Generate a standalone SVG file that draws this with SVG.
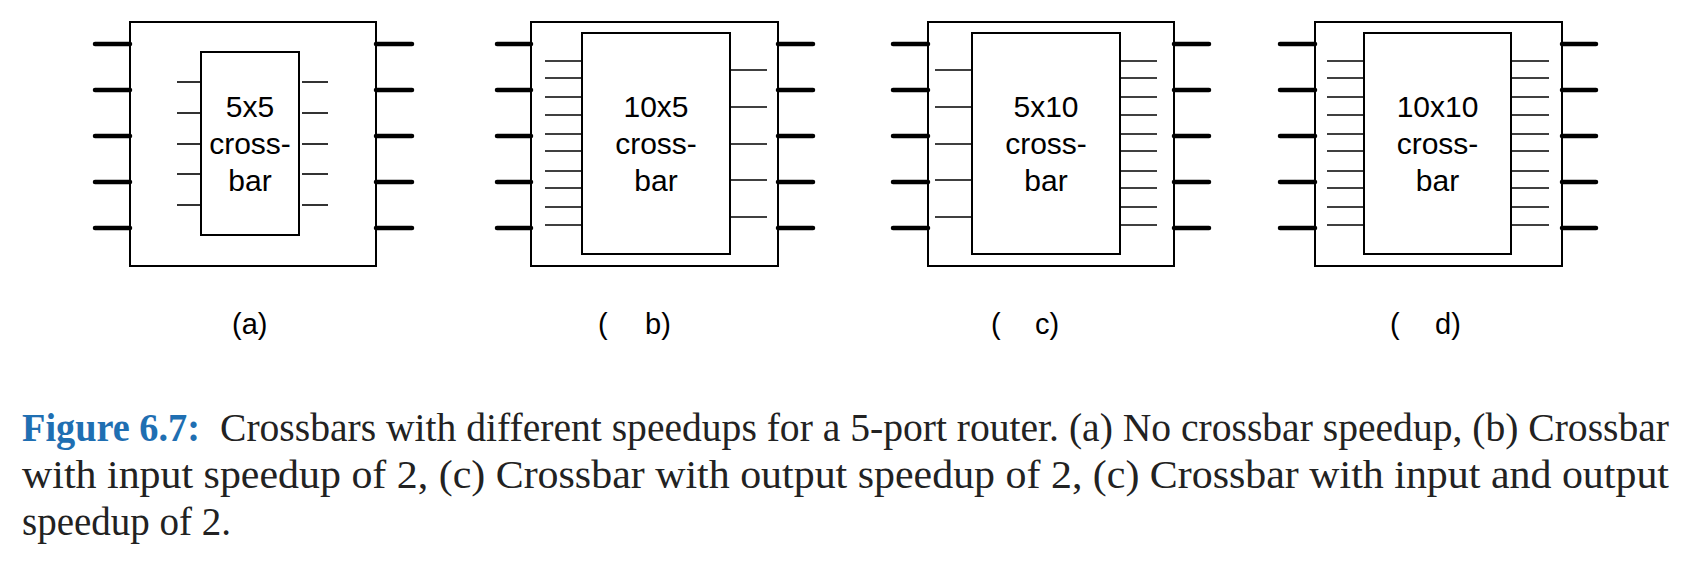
<svg xmlns="http://www.w3.org/2000/svg" width="1705" height="580" viewBox="0 0 1705 580">
<style>
.box{fill:#fff;stroke:#000;stroke-width:2}
.thick{stroke:#000;stroke-width:4.5;stroke-linecap:round}
.thin{stroke:#000;stroke-width:1.6;stroke-linecap:butt}
.xb{font-family:"Liberation Sans",Arial,Helvetica,sans-serif;font-size:30px;text-anchor:middle;fill:#000}
.sub{font-family:"Liberation Sans",Arial,Helvetica,sans-serif;font-size:29px;fill:#000}
.cap{font-family:"Liberation Serif","Times New Roman",serif;font-size:39px;fill:#222}
.figlbl{font-family:"Liberation Serif","Times New Roman",serif;font-size:39px;font-weight:bold;fill:#1f6fb2}
</style>
<rect width="1705" height="580" fill="#fff"/>

<g id="router-a">
<rect class="box" x="130" y="22" width="246" height="244"/>
<g id="crossbar-a">
<rect class="box" x="201" y="52" width="98" height="183"/>
<text class="xb" x="250" y="117">5x5</text>
<text class="xb" x="250" y="154">cross-</text>
<text class="xb" x="250" y="191">bar</text>
</g>
</g>

<g id="router-b">
<rect class="box" x="531" y="22" width="247" height="244"/>
<g id="crossbar-b">
<rect class="box" x="582" y="33" width="148" height="221"/>
<text class="xb" x="656" y="117">10x5</text>
<text class="xb" x="656" y="154">cross-</text>
<text class="xb" x="656" y="191">bar</text>
</g>
</g>

<g id="router-c">
<rect class="box" x="928" y="22" width="246" height="244"/>
<g id="crossbar-c">
<rect class="box" x="972" y="33" width="148" height="221"/>
<text class="xb" x="1046" y="117">5x10</text>
<text class="xb" x="1046" y="154">cross-</text>
<text class="xb" x="1046" y="191">bar</text>
</g>
</g>

<g id="router-d">
<rect class="box" x="1315" y="22" width="247" height="244"/>
<g id="crossbar-d">
<rect class="box" x="1364" y="33" width="147" height="221"/>
<text class="xb" x="1437.5" y="117">10x10</text>
<text class="xb" x="1437.5" y="154">cross-</text>
<text class="xb" x="1437.5" y="191">bar</text>
</g>
</g>

<g id="connectors">
<g id="ports-a">
<line class="thick" x1="95" y1="44" x2="130" y2="44"/><line class="thick" x1="95" y1="90" x2="130" y2="90"/><line class="thick" x1="95" y1="136" x2="130" y2="136"/><line class="thick" x1="95" y1="182" x2="130" y2="182"/><line class="thick" x1="95" y1="228" x2="130" y2="228"/>
<line class="thick" x1="376" y1="44" x2="412" y2="44"/><line class="thick" x1="376" y1="90" x2="412" y2="90"/><line class="thick" x1="376" y1="136" x2="412" y2="136"/><line class="thick" x1="376" y1="182" x2="412" y2="182"/><line class="thick" x1="376" y1="228" x2="412" y2="228"/>
<line class="thin" x1="177" y1="82" x2="201" y2="82"/><line class="thin" x1="177" y1="113" x2="201" y2="113"/><line class="thin" x1="177" y1="144" x2="201" y2="144"/><line class="thin" x1="177" y1="174" x2="201" y2="174"/><line class="thin" x1="177" y1="205" x2="201" y2="205"/>
<line class="thin" x1="302" y1="82" x2="328" y2="82"/><line class="thin" x1="302" y1="113" x2="328" y2="113"/><line class="thin" x1="302" y1="144" x2="328" y2="144"/><line class="thin" x1="302" y1="174" x2="328" y2="174"/><line class="thin" x1="302" y1="205" x2="328" y2="205"/>
</g>
<g id="ports-b">
<line class="thick" x1="497" y1="44" x2="531" y2="44"/><line class="thick" x1="497" y1="90" x2="531" y2="90"/><line class="thick" x1="497" y1="136" x2="531" y2="136"/><line class="thick" x1="497" y1="182" x2="531" y2="182"/><line class="thick" x1="497" y1="228" x2="531" y2="228"/>
<line class="thick" x1="778" y1="44" x2="813" y2="44"/><line class="thick" x1="778" y1="90" x2="813" y2="90"/><line class="thick" x1="778" y1="136" x2="813" y2="136"/><line class="thick" x1="778" y1="182" x2="813" y2="182"/><line class="thick" x1="778" y1="228" x2="813" y2="228"/>
<line class="thin" x1="545" y1="61" x2="582" y2="61"/><line class="thin" x1="545" y1="78" x2="582" y2="78"/><line class="thin" x1="545" y1="97" x2="582" y2="97"/><line class="thin" x1="545" y1="115" x2="582" y2="115"/><line class="thin" x1="545" y1="134" x2="582" y2="134"/><line class="thin" x1="545" y1="151" x2="582" y2="151"/><line class="thin" x1="545" y1="171" x2="582" y2="171"/><line class="thin" x1="545" y1="188" x2="582" y2="188"/><line class="thin" x1="545" y1="207" x2="582" y2="207"/><line class="thin" x1="545" y1="225" x2="582" y2="225"/>
<line class="thin" x1="730" y1="70" x2="767" y2="70"/><line class="thin" x1="730" y1="107" x2="767" y2="107"/><line class="thin" x1="730" y1="144" x2="767" y2="144"/><line class="thin" x1="730" y1="180" x2="767" y2="180"/><line class="thin" x1="730" y1="217" x2="767" y2="217"/>
</g>
<g id="ports-c">
<line class="thick" x1="893" y1="44" x2="928" y2="44"/><line class="thick" x1="893" y1="90" x2="928" y2="90"/><line class="thick" x1="893" y1="136" x2="928" y2="136"/><line class="thick" x1="893" y1="182" x2="928" y2="182"/><line class="thick" x1="893" y1="228" x2="928" y2="228"/>
<line class="thick" x1="1174" y1="44" x2="1209" y2="44"/><line class="thick" x1="1174" y1="90" x2="1209" y2="90"/><line class="thick" x1="1174" y1="136" x2="1209" y2="136"/><line class="thick" x1="1174" y1="182" x2="1209" y2="182"/><line class="thick" x1="1174" y1="228" x2="1209" y2="228"/>
<line class="thin" x1="935" y1="70" x2="972" y2="70"/><line class="thin" x1="935" y1="107" x2="972" y2="107"/><line class="thin" x1="935" y1="144" x2="972" y2="144"/><line class="thin" x1="935" y1="180" x2="972" y2="180"/><line class="thin" x1="935" y1="217" x2="972" y2="217"/>
<line class="thin" x1="1120" y1="61" x2="1157" y2="61"/><line class="thin" x1="1120" y1="78" x2="1157" y2="78"/><line class="thin" x1="1120" y1="97" x2="1157" y2="97"/><line class="thin" x1="1120" y1="115" x2="1157" y2="115"/><line class="thin" x1="1120" y1="134" x2="1157" y2="134"/><line class="thin" x1="1120" y1="151" x2="1157" y2="151"/><line class="thin" x1="1120" y1="171" x2="1157" y2="171"/><line class="thin" x1="1120" y1="188" x2="1157" y2="188"/><line class="thin" x1="1120" y1="207" x2="1157" y2="207"/><line class="thin" x1="1120" y1="225" x2="1157" y2="225"/>
</g>
<g id="ports-d">
<line class="thick" x1="1280" y1="44" x2="1315" y2="44"/><line class="thick" x1="1280" y1="90" x2="1315" y2="90"/><line class="thick" x1="1280" y1="136" x2="1315" y2="136"/><line class="thick" x1="1280" y1="182" x2="1315" y2="182"/><line class="thick" x1="1280" y1="228" x2="1315" y2="228"/>
<line class="thick" x1="1562" y1="44" x2="1596" y2="44"/><line class="thick" x1="1562" y1="90" x2="1596" y2="90"/><line class="thick" x1="1562" y1="136" x2="1596" y2="136"/><line class="thick" x1="1562" y1="182" x2="1596" y2="182"/><line class="thick" x1="1562" y1="228" x2="1596" y2="228"/>
<line class="thin" x1="1327" y1="61" x2="1364" y2="61"/><line class="thin" x1="1327" y1="78" x2="1364" y2="78"/><line class="thin" x1="1327" y1="97" x2="1364" y2="97"/><line class="thin" x1="1327" y1="115" x2="1364" y2="115"/><line class="thin" x1="1327" y1="134" x2="1364" y2="134"/><line class="thin" x1="1327" y1="151" x2="1364" y2="151"/><line class="thin" x1="1327" y1="171" x2="1364" y2="171"/><line class="thin" x1="1327" y1="188" x2="1364" y2="188"/><line class="thin" x1="1327" y1="207" x2="1364" y2="207"/><line class="thin" x1="1327" y1="225" x2="1364" y2="225"/>
<line class="thin" x1="1511" y1="61" x2="1549" y2="61"/><line class="thin" x1="1511" y1="78" x2="1549" y2="78"/><line class="thin" x1="1511" y1="97" x2="1549" y2="97"/><line class="thin" x1="1511" y1="115" x2="1549" y2="115"/><line class="thin" x1="1511" y1="134" x2="1549" y2="134"/><line class="thin" x1="1511" y1="151" x2="1549" y2="151"/><line class="thin" x1="1511" y1="171" x2="1549" y2="171"/><line class="thin" x1="1511" y1="188" x2="1549" y2="188"/><line class="thin" x1="1511" y1="207" x2="1549" y2="207"/><line class="thin" x1="1511" y1="225" x2="1549" y2="225"/>
</g>
</g>

<g id="sublabels">
<text class="sub" x="232" y="334">(a)</text>
<text class="sub" x="598" y="334">(<tspan x="645">b)</tspan></text>
<text class="sub" x="991" y="334">(<tspan x="1035">c)</tspan></text>
<text class="sub" x="1390" y="334">(<tspan x="1435">d)</tspan></text>
</g>

<g id="caption">
<text class="figlbl" x="22" y="441" textLength="178" lengthAdjust="spacingAndGlyphs">Figure 6.7:</text>
<text class="cap" x="220" y="441" textLength="1449" lengthAdjust="spacingAndGlyphs">Crossbars with different speedups for a 5-port router. (a) No crossbar speedup, (b) Crossbar</text>
<text class="cap" x="22" y="488" textLength="1647" lengthAdjust="spacingAndGlyphs">with input speedup of 2, (c) Crossbar with output speedup of 2, (c) Crossbar with input and output</text>
<text class="cap" x="22" y="535">speedup of 2.</text>
</g>
</svg>
